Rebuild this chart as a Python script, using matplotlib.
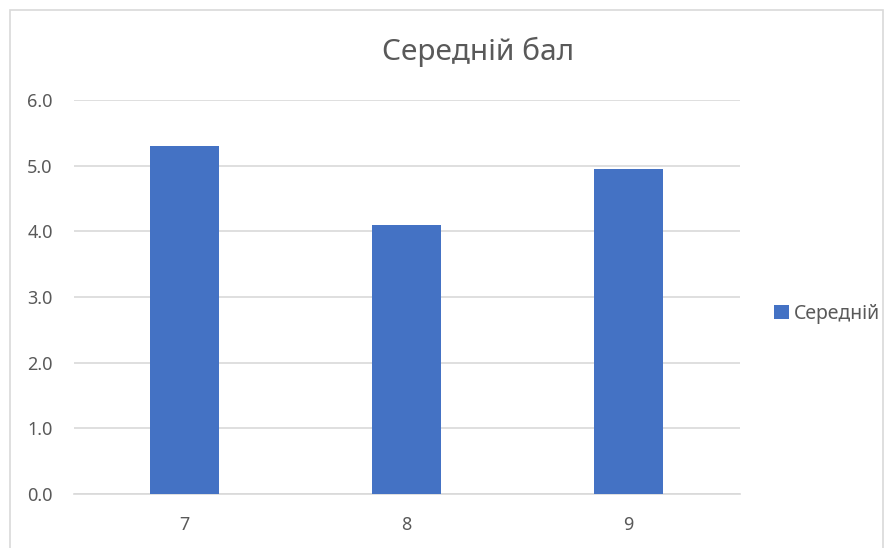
import matplotlib
matplotlib.use("Agg")
import matplotlib.pyplot as plt
from matplotlib.patches import Rectangle

plt.rcParams['font.family'] = ['Noto Sans', 'DejaVu Sans']

categories = ["7", "8", "9"]
values = [5.3, 4.1, 4.95]
yticks = [0.0, 1.0, 2.0, 3.0, 4.0, 5.0, 6.0]
title = "Середній бал"
series_name = "Середній"

W, H = 884, 548
fig = plt.figure(figsize=(W / 100, H / 100), dpi=100)
ax = fig.add_axes([73.5 / W, (H - 494) / H, 666 / W, 394 / H])

x = list(range(len(categories)))
ax.bar(x, values, width=0.31, color="#4472C4", zorder=3, label=series_name)
ax.set_xlim(-0.5, len(categories) - 0.5)
ax.set_ylim(0, 6)
ax.set_yticks(yticks)
ax.set_yticklabels([f"{v:.1f}" for v in yticks])
ax.set_xticks(x)
ax.set_xticklabels(categories)
ax.grid(axis="y", color="#D9D9D9", linewidth=1.2, zorder=0)
for s in ["top", "right", "left"]:
    ax.spines[s].set_visible(False)
ax.spines["bottom"].set_color("#D9D9D9")
ax.spines["bottom"].set_linewidth(1.2)
ax.tick_params(axis="both", length=0, colors="#595959", labelsize=13)
ax.tick_params(axis="y", pad=15)
ax.tick_params(axis="x", pad=16)

fig.text(478 / W, 1 - 52 / H, title, ha="center", va="center", fontsize=21.5, color="#595959")

# outer chart border
fig.patches.append(Rectangle((9.5 / W, -0.05), (883 - 9.5) / W, 1 - 10.5 / H + 0.05,
                             transform=fig.transFigure, fill=False,
                             edgecolor="#D9D9D9", linewidth=1.2))

leg = fig.legend(loc="center left", bbox_to_anchor=(774 / W, 1 - 314 / H), frameon=False,
                 fontsize=14, handlelength=0.75, handleheight=0.75, handletextpad=0.25,
                 borderaxespad=0, borderpad=0)
for t in leg.get_texts():
    t.set_color("#595959")

fig.savefig("out.png", dpi=100)
